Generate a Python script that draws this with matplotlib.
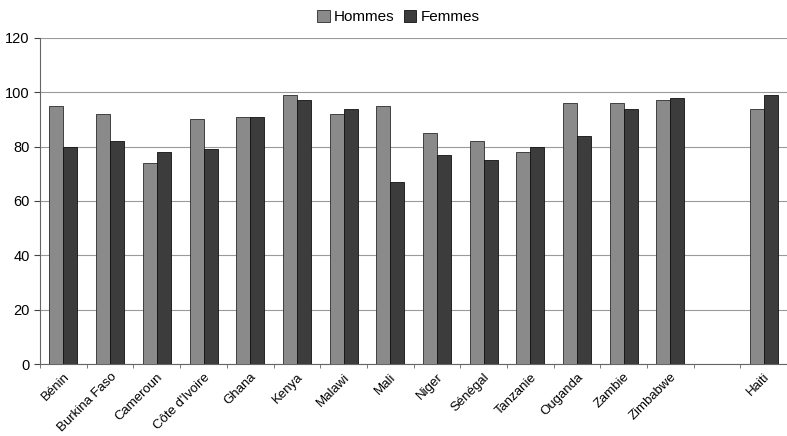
import numpy as np
import matplotlib.pyplot as plt

plt.rcParams['font.family'] = ['Liberation Sans', 'DejaVu Sans']

pays = ['Bénin', 'Burkina Faso', 'Cameroun', "Côte d'Ivoire", 'Ghana', 'Kenya',
        'Malawi', 'Mali', 'Niger', 'Sénégal', 'Tanzanie', 'Ouganda', 'Zambie',
        'Zimbabwe', '', 'Haiti']
hommes = [95, 92, 74, 90, 91, 99, 92, 95, 85, 82, 78, 96, 96, 97, np.nan, 94]
femmes = [80, 82, 78, 79, 91, 97, 94, 67, 77, 75, 80, 84, 94, 98, np.nan, 99]

fig = plt.figure(figsize=(7.87, 4.36), dpi=100)
ax = fig.add_axes([0.051, 0.165, 0.949, 0.748])

x = np.arange(len(pays))
w = 0.3
ax.bar(x - w / 2, hommes, w, color='#8a8a8a', edgecolor='#2a2a2a', linewidth=0.6,
       label='Hommes', zorder=3)
ax.bar(x + w / 2, femmes, w, color='#3c3c3c', edgecolor='#111111', linewidth=0.6,
       label='Femmes', zorder=3)

ax.set_xlim(-0.5, len(pays) - 0.5)
ax.set_ylim(0, 120)
ax.set_yticks(range(0, 121, 20))
ax.yaxis.grid(True, color='#9a9a9a', linewidth=0.8, zorder=0)

ax.set_xticks(x)
ax.set_xticklabels(pays, rotation=45, ha='right', rotation_mode='anchor', fontsize=9.5)
ax.set_xticks(np.arange(-0.5, len(pays), 1), minor=True)
ax.tick_params(axis='x', which='major', length=0, pad=5)
ax.tick_params(axis='x', which='minor', length=3, color='#666666')
ax.tick_params(axis='y', labelsize=10.5, length=4, color='#444444')

for s in ['top', 'right']:
    ax.spines[s].set_visible(False)
ax.spines['left'].set_color('#666666')
ax.spines['bottom'].set_color('#666666')

ax.legend(loc='lower center', bbox_to_anchor=(0.48, 1.0), ncol=2, frameon=False,
          fontsize=11, handlelength=0.8, handleheight=0.8, columnspacing=0.6,
          handletextpad=0.3)

fig.savefig('out.png', dpi=100)
